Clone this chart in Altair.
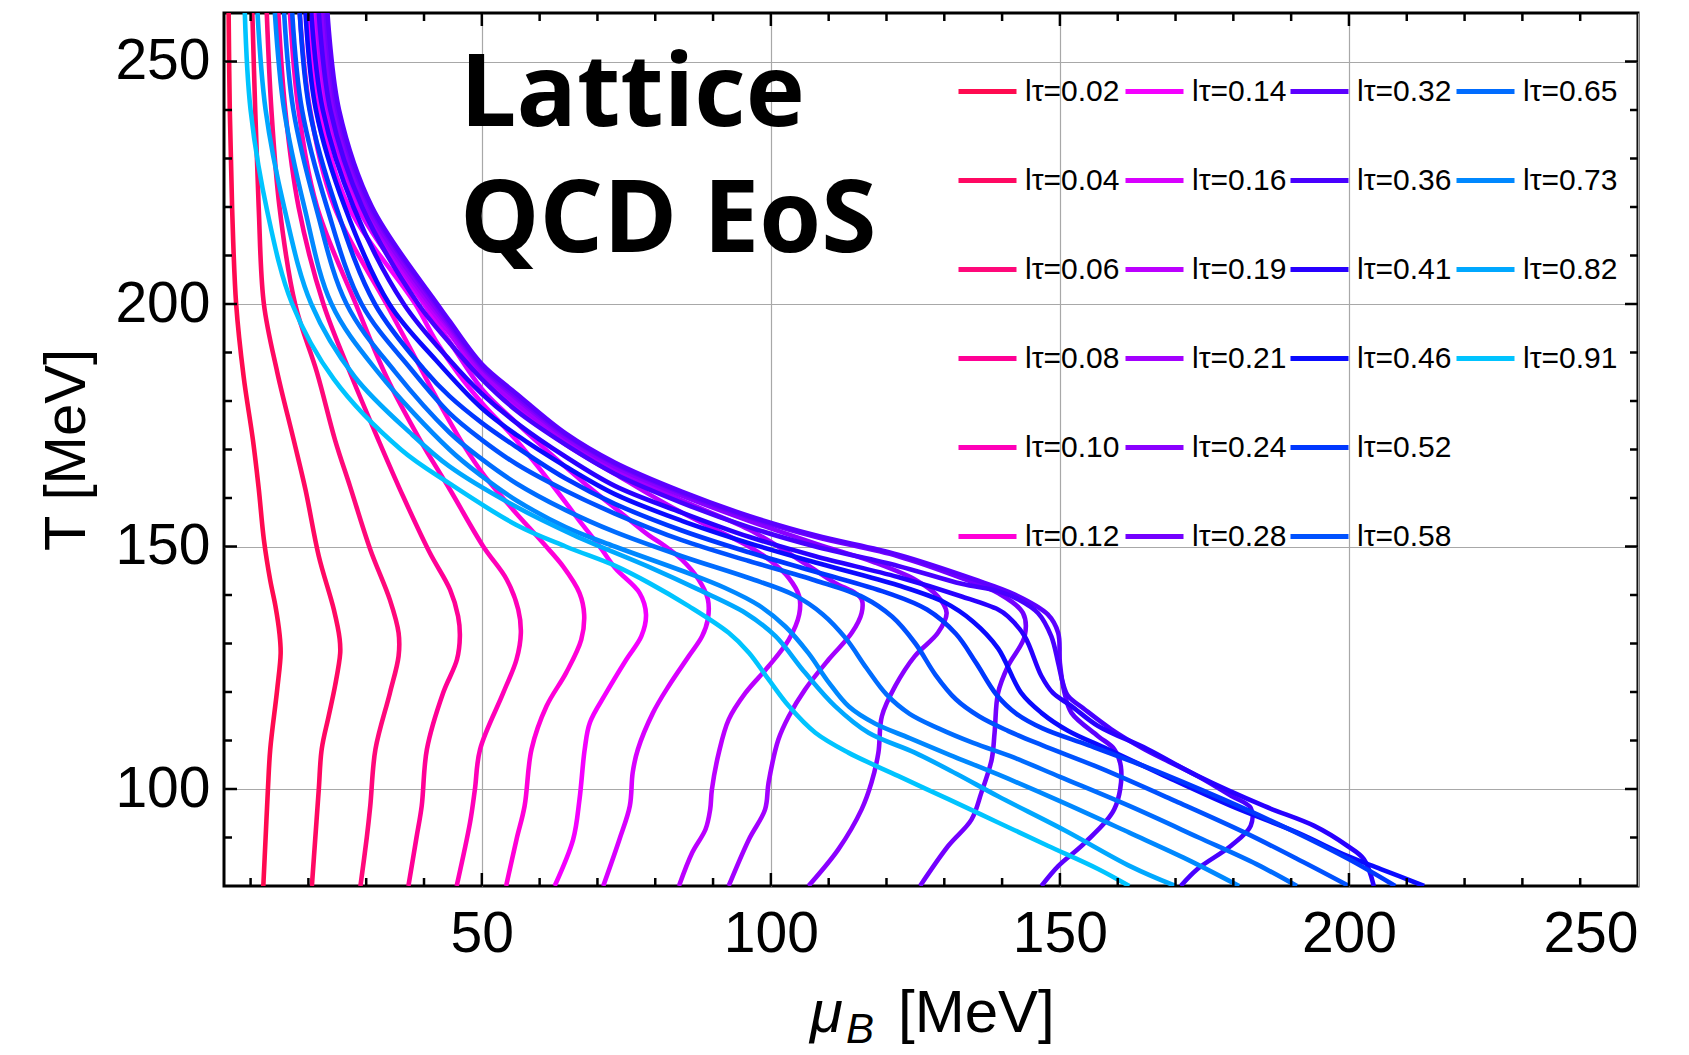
import altair as alt
import pandas as pd

# ---------------- data ----------------
LABELS = ["0.02", "0.04", "0.06", "0.08", "0.10", "0.12",
          "0.14", "0.16", "0.19", "0.21", "0.24", "0.28",
          "0.32", "0.36", "0.41", "0.46", "0.52", "0.58",
          "0.65", "0.73", "0.82", "0.91"]

COLORS = ["#ff0a50", "#ff0862", "#ff087a", "#ff0095", "#ff00b8", "#ff00d8",
          "#f400ff", "#d800ff", "#bb00ff", "#a300ff", "#8a00ff", "#7300ff",
          "#5c00ff", "#4800ff", "#2800ff", "#0a0aff", "#0038ff", "#0052ff",
          "#006cff", "#0088ff", "#00a8ff", "#00c4ff"]

# (mu_B, T) points along each curve, top to bottom
C002 = [(6.2,260),(6.4,240),(6.8,220),(7.5,200),(8.8,185),(10.4,172),(11.4,162),(12.3,151.4),(13.4,143),(14.3,137.7),(15.0,132),(15.2,128),(14.6,120.5),(13.4,108.2),(13.0,100),(12.6,90),(12.2,80)]
C004 = [(10.3,260),(10.8,240),(11.4,220),(12.3,200),(14.6,186),(17.45,172),(19.5,161.7),(21.8,148),(24.4,137),(25.4,131),(25.5,128),(24.6,121.2),(23.5,115),(22.3,108.2),(21.8,100),(21.2,90),(20.6,80)]
C006 = [(12.8,260),(13.6,240),(15.0,220),(17.7,200),(21.5,185.8),(24.6,172),(27.2,162.4),(30.7,149.4),(34.1,139),(35.6,132.2),(35.6,127.4),(34.1,119.8),(31.6,108.2),(30.7,96.5),(30.1,90),(29.0,80)]
C008 = [(14.8,260),(16.0,240),(18.3,220),(22.6,200),(27.5,185),(32.1,172),(36.4,160.3),(41.0,148.7),(44.5,141.1),(45.9,135.6),(46.2,131.5),(45.7,126.7),(43.3,119.8),(40.5,108.2),(39.6,96.5),(38.7,90),(37.3,80)]
C010 = [(16.8,260),(18.3,240),(21.5,220),(28.2,200),(33.5,185),(39.3,172),(44.5,161.7),(50.25,150),(54.3,143.2),(56.3,137),(56.75,132.2),(56.0,126.7),(53.7,119.8),(49.7,108.2),(48.8,99.9),(47.95,93),(45.65,80)]
C012 = [(18.5,260),(20.3,240),(24.5,220),(33.5,200),(38.0,190),(42.0,181),(46.8,171),(50.5,164.5),(55.4,157.6),(60.6,150.7),(64.05,145.9),(66.9,140.4),(67.7,136),(67.2,130.8),(64.6,124),(61.2,117.1),(58.6,108.2),(57.4,96.5),(56.0,89.6),(54.2,80)]
C014 = [(20.0,260),(22.0,240),(27.0,220),(38.5,200),(42.0,192.5),(46.0,185.5),(50.1,179.5),(55.9,172),(61.6,163.6),(67.4,154.5),(70.4,150),(73.1,145.5),(77.3,140.4),(78.4,136),(77.6,131.5),(75.0,126.7),(71.5,119.8),(68.7,113.7),(67.8,108.2),(66.9,97.9),(65.8,89.6),(62.6,80)]
C016 = [(21.0,260),(23.0,240),(28.5,220),(40.0,200),(44.4,192.3),(50,182.5),(56,175.5),(62,169),(68,162.8),(74,157),(78.9,152.3),(81.2,150.5),(84.6,147.3),(87.5,143.2),(89.1,139.1),(89.1,135),(88.1,131.5),(85.8,127.4),(82.3,121.2),(79.6,115.7),(77.0,108.2),(76.1,103.4),(75.6,96.5),(73.8,89.6),(71.0,80)]
C019 = [(21.5,260),(23.5,240),(29.2,220),(40.5,200),(44.4,194),(50,185),(56,178.5),(64.5,171),(73,165),(78.9,160.8),(84.6,157),(90.4,153.5),(96.2,150),(100,147),(103.1,143.5),(104.9,139.7),(104.9,136),(103.1,130.8),(99.6,125.3),(95.6,119.8),(92.7,114.3),(91.0,107.5),(89.8,99.9),(89.5,95.8),(88.7,91.7),(86.4,86.9),(84.1,80)]
C021 = [(22.0,260),(24.0,240),(29.8,220),(41.0,200),(44.4,195),(50,186),(56,179.5),(64.5,172),(73,166),(84.6,159.5),(96.2,153.5),(105.9,146.5),(111.1,142.5),(114.6,140.4),(115.7,139.1),(115.7,136.3),(114.0,132.2),(110.0,126.7),(105.9,120.5),(103.1,115),(101.3,110.2),(99.6,101.3),(99.0,95.8),(96.2,89.6),(92.7,80)]
C024 = [(22.5,260),(24.5,240),(30.2,220),(41.5,200),(44.4,195.5),(50,186.8),(56,180.5),(64.5,172.5),(73,166.5),(84.6,160.5),(96.2,155.3),(108,150.5),(118,146.7),(124.9,143.2),(128.9,139.7),(130.4,136.3),(128.9,132.2),(124.9,127.4),(121.5,121.2),(119.2,115),(118.6,107.5),(117.4,101.3),(115.7,95.8),(111.7,87.6),(106.5,80)]
C028 = [(23.0,260),(25.0,240),(30.7,220),(42.0,200),(44.4,196),(50,187.2),(56,181),(64.5,173),(73,167),(84.6,161),(96.2,156),(107.7,152),(122,148),(133,143.5),(139.3,140.4),(143.6,136.3),(143.9,131.5),(141.0,125.3),(139.3,119.8),(138.7,111.6),(138.2,106.1),(136.4,99.2),(134.7,93.7),(130.7,88.3),(125.8,80)]
C032 = [(23.3,260),(25.3,240),(31.0,220),(42.3,200),(44.4,196.5),(50,187.6),(56,181.5),(64.5,173.3),(73,167.3),(84.6,161.3),(96.2,156.3),(107.7,152.3),(122,148.3),(135,143.3),(142.2,140.1),(147.9,136),(149.7,132.2),(150,126),(150.8,119.8),(152,115.7),(156.6,110.9),(159.4,108.2),(160.6,104),(159.4,95.8),(154.3,88.9),(149.7,84.1),(146.8,80)]
C036 = [(21.8,260),(23.8,240),(29.3,220),(39.0,200),(44.4,192),(50,184.5),(56,178),(64.5,171),(73,165),(84.6,159),(96.2,154),(107.7,150),(122,146),(133,142.3),(139.3,140.8),(142.8,139.1),(146.2,136.3),(148.5,131.5),(149.7,126),(150.5,121.9),(151.4,119.2),(154.3,116.4),(158.9,112.3),(164.6,108.2),(173.8,102.7),(179.6,98.6),(183,96.1),(183,92.4),(179.6,88.3),(173.8,83.5),(170.9,80)]
C041 = [(20.5,260),(22.5,240),(27.8,220),(36.5,200),(44.4,188.5),(50,181.5),(56,175.5),(64.5,168.5),(73,162.5),(84.6,157),(96.2,152),(107.7,148),(122,143.7),(133,139.7),(139.3,137),(141,135.6),(143.9,131.5),(146.8,123.3),(148.8,119.8),(152,117.1),(156.6,113),(165.2,108.2),(173.8,102.7),(185.3,96.5),(194,92.4),(199.7,88.3),(202.6,85.5),(204.3,80)]
C046 = [(19.5,260),(21.3,240),(26.3,220),(34.0,200),(42.0,188.5),(50,178.5),(56,173),(64.5,166.5),(73,160.8),(84.6,155.3),(96.2,150.7),(107.7,146.7),(122,142),(130,138.5),(135,134.5),(139.3,129),(143.3,119.8),(146.8,115.7),(151.4,112),(158.3,108.2),(168.1,102.7),(179.6,96.5),(191.1,91),(199.7,86.2),(205.5,83.5),(213,80)]
C052 = [(18.5,260),(20.2,240),(24.8,220),(31.5,200),(40.0,186.5),(44.4,181),(50,175.5),(56,170.5),(64.5,164),(73,158.8),(84.6,153.3),(96.2,148.8),(107.7,144.8),(120,140.5),(127,137),(132,132),(135.5,126),(139,119.5),(142.5,115.5),(147,112.5),(155,109),(165,104.5),(178,98),(190,91.5),(200,85.5),(208,80)]
C058 = [(17.2,260),(18.9,240),(23.2,220),(29.2,200),(37.8,186.5),(44.4,177.5),(50,172),(56,167),(64.5,161.5),(73,156.8),(84.6,151.3),(96.2,147),(107.7,143),(116,139.5),(121,135.5),(125,130),(128.5,123.5),(132,118.5),(136,115),(141,112),(147,109),(157,104.3),(170,97.5),(182,91),(192,85),(200,80)]
C065 = [(15.8,260),(17.4,240),(21.3,220),(26.6,200),(35.0,186),(44.4,173.5),(50,168),(56,163),(64.5,157.5),(73,153),(84.6,148),(96.2,143.5),(104,140),(109,136),(113,131),(116.5,125),(120,119.5),(124,115.5),(129,112.5),(135,109.5),(142,106.5),(150,102.5),(162,96.5),(174,90),(184,84.5),(191,80)]
C073 = [(14.2,260),(15.8,240),(19.3,220),(24.0,200),(32.0,186),(44.4,170),(50,164.5),(56,159.5),(64.5,154),(73,150),(84.6,145),(92,141.5),(98,137.8),(102.5,133.5),(106.5,128),(110,122),(113.5,117),(118,113.5),(124,110.5),(131,107),(139.3,103),(150,97.5),(162,91),(172,85.5),(181,80)]
C082 = [(11.2,260),(12.6,240),(15.8,220),(20.5,200),(28.0,185),(38.0,173),(44.4,166.5),(55,158.8),(66,152.3),(78.9,145.8),(87.5,141.1),(95.6,136.3),(100.8,131.5),(105.9,124),(111.1,117.1),(116.9,111.6),(124.9,107.5),(132,103.2),(139.3,98.5),(150.8,91.5),(162.3,84),(170,80)]
C091 = [(9.0,260),(10.0,240),(12.9,219),(17.2,200),(24.4,184.5),(36,170),(44.4,163),(55.9,154.5),(64.5,150),(73.1,146),(78.9,142.5),(85.8,137.7),(92.7,132.2),(96.2,128.1),(99.6,122.6),(103.1,117.1),(107.7,111.6),(113.4,107.5),(122,102.7),(130.7,97.9),(139.3,93.1),(147.9,88.3),(156.6,83.5),(162,80)]

CURVES = [C002, C004, C006, C008, C010, C012, C014, C016, C019, C021, C024, C028,
          C032, C036, C041, C046, C052, C058, C065, C073, C082, C091]

LEGEND_GROUPS = [(0, 6), (6, 12), (12, 18), (18, 22)]

X_MAJOR = [50, 100, 150, 200, 250]
X_MINOR = [10, 20, 30, 40, 60, 70, 80, 90, 110, 120, 130, 140, 160, 170, 180, 190, 210, 220, 230, 240]
Y_MAJOR = [100, 150, 200, 250]
Y_MINOR = [90, 110, 120, 130, 140, 160, 170, 180, 190, 210, 220, 230, 240]

TITLE_LINES = ["Lattice", "QCD EoS"]
# x-axis title pieces: mu, subscript B, unit
XTITLE_PARTS = ["μ", "B", "[MeV]"]

# ---------------- layout ----------------
W, H = 1414, 873
xscale = alt.Scale(domain=[5.4, 250], nice=False, zero=False)
yscale = alt.Scale(domain=[80, 260], nice=False, zero=False)
FONT = "Liberation Sans"

xaxis = alt.Axis(values=X_MAJOR, grid=True, gridColor="#a8a8a8", gridWidth=1.2,
                 ticks=False, domain=False, labelFont=FONT, labelFontSize=57,
                 labelColor="black", labelPadding=20, title=None)
yaxis = alt.Axis(values=Y_MAJOR, grid=True, gridColor="#a8a8a8", gridWidth=1.2,
                 ticks=False, domain=False, labelFont=FONT, labelFontSize=57,
                 labelColor="black", labelPadding=14, title="T [MeV]",
                 titleFont=FONT, titleFontSize=58, titleFontWeight="normal",
                 titleColor="black", titlePadding=18)

layers = []

legend_x = [732, 899, 1064, 1230]
for gi, (a, b) in enumerate(LEGEND_GROUPS):
    rows = []
    for k in range(a, b):
        lab = "lτ=" + LABELS[k]
        for j, (m, t) in enumerate(CURVES[k]):
            rows.append({"mu": m, "T": t, "label": lab, "idx": j})
    df = pd.DataFrame(rows)
    layer = alt.Chart(df).mark_line(strokeWidth=4.6, clip=True, interpolate="catmull-rom").encode(
        x=alt.X("mu:Q", scale=xscale, axis=xaxis),
        y=alt.Y("T:Q", scale=yscale, axis=yaxis),
        color=alt.Color("label:N",
                        scale=alt.Scale(domain=["lτ=" + l for l in LABELS[a:b]],
                                        range=COLORS[a:b]),
                        sort=None,
                        legend=alt.Legend(orient="none", legendX=legend_x[gi], legendY=47,
                                          title=None, symbolType="stroke",
                                          symbolStrokeWidth=5, symbolSize=3364,
                                          labelFont=FONT, labelFontSize=30,
                                          labelColor="black", rowPadding=42,
                                          labelOffset=6, padding=0, direction="vertical")),
        order="idx:Q",
    )
    layers.append(layer)

# inward ticks on all four sides
def xticks(vals, length):
    d = pd.DataFrame({"v": vals})
    bot = alt.Chart(d).mark_rule(color="black", strokeWidth=2.5).encode(
        x=alt.X("v:Q", scale=xscale, axis=xaxis), y=alt.value(H), y2=alt.value(H - length))
    top = alt.Chart(d).mark_rule(color="black", strokeWidth=2.5).encode(
        x=alt.X("v:Q", scale=xscale, axis=xaxis), y=alt.value(0), y2=alt.value(length))
    return [bot, top]

def yticks(vals, length):
    d = pd.DataFrame({"v": vals})
    left = alt.Chart(d).mark_rule(color="black", strokeWidth=2.5).encode(
        y=alt.Y("v:Q", scale=yscale, axis=yaxis), x=alt.value(0), x2=alt.value(length))
    right = alt.Chart(d).mark_rule(color="black", strokeWidth=2.5).encode(
        y=alt.Y("v:Q", scale=yscale, axis=yaxis), x=alt.value(W - length), x2=alt.value(W))
    return [left, right]

layers += xticks(X_MAJOR[:-1], 13) + xticks(X_MINOR, 8)
layers += yticks(Y_MAJOR, 13) + yticks(Y_MINOR, 8)

# big annotation
for i, line in enumerate(TITLE_LINES):
    t = alt.Chart(pd.DataFrame({"t": [line]})).mark_text(
        font="Open Sans", fontSize=100, fontWeight="bold", align="left",
        baseline="alphabetic", color="black").encode(
        text="t:N", x=alt.value(236), y=alt.value(113 + 126 * i))
    layers.append(t)

# x-axis title with italic mu and subscript B
xt_style = [(60, "italic", 586, 1019), (42, "italic", 622, 1030), (60, "normal", 674, 1019)]
for part, (fs, fst, px, py) in zip(XTITLE_PARTS, xt_style):
    t = alt.Chart(pd.DataFrame({"t": [part]})).mark_text(
        font=FONT, fontSize=fs, fontStyle=fst, align="left",
        baseline="alphabetic", color="black").encode(
        text="t:N", x=alt.value(px), y=alt.value(py))
    layers.append(t)

chart = alt.layer(*layers).resolve_scale(color="independent").properties(
    width=W, height=H,
    autosize=alt.AutoSizeParams(type="none"),
    padding={"left": 224, "top": 13, "right": 51, "bottom": 169},
    background="white",
).configure_view(stroke="black", strokeWidth=3)

chart.save("out.html", embed_options={"renderer": "svg", "actions": False})
